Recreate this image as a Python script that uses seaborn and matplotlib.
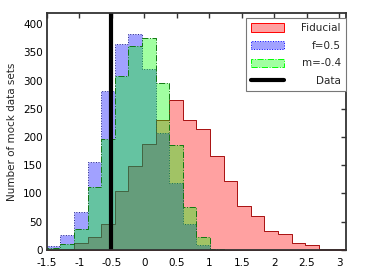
import numpy as np
import pandas as pd
import seaborn as sns
import matplotlib.pyplot as plt
from matplotlib.patches import Patch
from matplotlib.lines import Line2D
from matplotlib.ticker import FormatStrFormatter

# 22 bins from -1.5 to 3.1
x_lo, x_hi, n_bins = -1.5, 3.1, 22
edges = np.linspace(x_lo, x_hi, n_bins + 1)
centers = 0.5 * (edges[:-1] + edges[1:])

fiducial = [0, 1, 12, 23, 46, 105, 149, 188, 230, 265, 230, 215,
            166, 122, 78, 60, 33, 28, 12, 8, 2, 1]
f_05 = [7, 26, 67, 156, 281, 364, 383, 320, 208, 119, 46, 9,
        0, 0, 0, 0, 0, 0, 0, 0, 0, 0]
m_04 = [3, 11, 37, 112, 197, 308, 361, 376, 295, 185, 76, 22,
        2, 0, 0, 0, 0, 0, 0, 0, 0, 0]
data_value = -0.51

labels = ['Fiducial', 'f=0.5', 'm=-0.4', 'Data']

df = pd.DataFrame({'x': centers, 'fid': fiducial, 'f': f_05, 'm': m_04})

sns.set_theme(style='white')
plt.rcParams['font.family'] = ['DejaVu Sans']
plt.rcParams['axes.unicode_minus'] = False

fig = plt.figure(figsize=(3.66, 2.74), dpi=100)
ax = fig.add_axes([0.128, 0.088, 0.817, 0.865])

a = 0.37
common = dict(data=df, x='x', bins=n_bins, binrange=(x_lo, x_hi),
              element='step', fill=True, alpha=a, linewidth=0.7, ax=ax)
sns.histplot(weights='fid', color='red', edgecolor='#a81010', **common)
sns.histplot(weights='f', color='blue', edgecolor='#20208a', linestyle=':', **common)
sns.histplot(weights='m', color='lime', edgecolor='#107a10', linestyle='-.', **common)
ax.axvline(data_value, color='black', lw=3)

ax.set_xlim(x_lo, x_hi)
ax.set_ylim(0, 420)
ax.set_xticks([-1.5, -1, -0.5, 0, 0.5, 1, 1.5, 2, 2.5, 3])
ax.set_yticks(range(0, 401, 50))
ax.xaxis.set_major_formatter(FormatStrFormatter('%g'))
ax.set_xlabel('')
ax.set_ylabel('Number of mock data sets', fontsize=7.5, labelpad=4)
ax.tick_params(direction='in', length=3.5, width=1, labelsize=7.5,
               top=True, right=True, colors='#333333', labelcolor='black', pad=3)
ax.tick_params(axis='x', pad=6)
for s in ax.spines.values():
    s.set_linewidth(1.3)
    s.set_color('#333333')

handles = [
    Patch(facecolor=(1, 0, 0, a), edgecolor='red', linewidth=0.7),
    Patch(facecolor=(0, 0, 1, a), edgecolor='blue', linewidth=0.7, linestyle=':'),
    Patch(facecolor=(0, 1, 0, a), edgecolor='lime', linewidth=0.7, linestyle='-.'),
    Line2D([0], [0], color='black', lw=3),
]
leg = ax.legend(handles, labels, loc='upper right', bbox_to_anchor=(1, 0.98),
                borderaxespad=0, fontsize=7.5, fancybox=False, framealpha=1,
                edgecolor='#777777', handlelength=3.2, handleheight=0.9,
                handletextpad=1.6, labelspacing=0.75, borderpad=0.5)
leg.get_frame().set_linewidth(0.8)

# right-align the legend texts like the original
fig.canvas.draw()
r = fig.canvas.get_renderer()
ws = [t.get_window_extent(r).width for t in leg.get_texts()]
for t, w in zip(leg.get_texts(), ws):
    t.set_position((max(ws) - w, 0))

fig.savefig('out.png', dpi=100)
